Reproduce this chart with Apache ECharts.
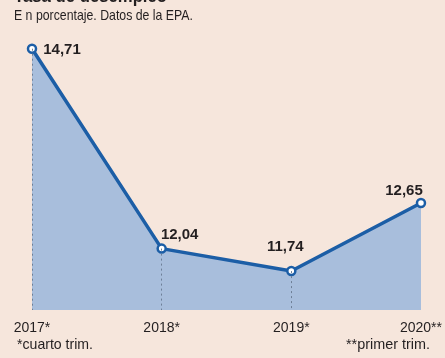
<!DOCTYPE html>
<html><head><meta charset="utf-8">
<script src="https://cdn.jsdelivr.net/npm/echarts@6/dist/echarts.min.js"></script>
<style>html,body{margin:0;padding:0;background:#f6e6dc;}#c{width:445px;height:358px;}</style>
</head><body><div id="c"></div>
<script>
const categories = ['2017*', '2018*', '2019*', '2020**'];
const values = [14.71, 12.04, 11.74, 12.65];
const valueLabels = ['14,71', '12,04', '11,74', '12,65'];
const yMin = 11.22;

const FONT = '"Liberation Sans","Roboto",sans-serif';
const chart = echarts.init(document.getElementById('c'));
const labelPos = [
  {position: 'right', offset: [1, 1]},
  {position: 'top', offset: [18, 4]},
  {position: 'top', offset: [-6, -6]},
  {position: 'top', offset: [-17, 6]}
];
chart.setOption({
  backgroundColor: '#f6e6dc',
  animation: false,
  graphic: [
    {type: 'text', left: 14, top: -13, scaleX: 0.88, style: {text: 'Tasa de desempleo', font: 'bold 19px ' + FONT, fill: '#231f20'}},
    {type: 'text', left: 14, top: 8, scaleX: 0.82, style: {text: 'E n porcentaje. Datos de la EPA.', font: '15px ' + FONT, fill: '#231f20'}},
    {type: 'text', left: 17, top: 337, scaleX: 0.94, style: {text: '*cuarto trim.', font: '15px ' + FONT, fill: '#231f20'}},
    {type: 'text', right: 15, top: 337, scaleX: 0.96, style: {text: '**primer trim.', font: '15px ' + FONT, fill: '#231f20'}}
  ],
  grid: {left: 32, right: 23, top: 27, bottom: 48},
  xAxis: {
    type: 'category', data: categories, boundaryGap: false,
    axisLine: {show: false}, axisTick: {show: false},
    axisLabel: {color: '#231f20', fontFamily: FONT, fontSize: 14, margin: 11}
  },
  yAxis: {type: 'value', min: yMin, max: 15, show: false, splitLine: {show: false}},
  series: [{
    type: 'line', data: values.map((v, i) => ({value: v, label: Object.assign({}, labelPos[i])})),
    symbol: 'circle', symbolSize: 8,
    itemStyle: {color: '#ffffff', borderColor: '#1c5ea6', borderWidth: 2.5},
    lineStyle: {color: '#1c5ea6', width: 3.5},
    areaStyle: {color: '#a8bedc', opacity: 1},
    label: {show: true, fontFamily: FONT, fontSize: 15, fontWeight: 'bold', color: '#231f20',
      formatter: p => valueLabels[p.dataIndex]},
    z: 3,
    markLine: {
      silent: true, symbol: 'none', label: {show: false},
      lineStyle: {color: '#6d7f96', type: [2, 3], width: 1},
      data: values.slice(0, 3).map((v, i) => [{coord: [i, v]}, {coord: [i, yMin]}])
    }
  }]
});
</script></body></html>
